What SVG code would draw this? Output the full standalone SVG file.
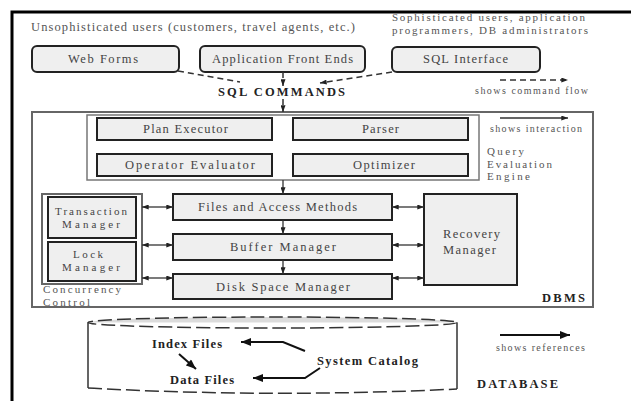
<svg xmlns="http://www.w3.org/2000/svg" width="631" height="401" viewBox="0 0 631 401">
<defs>
<marker id="ah" viewBox="0 0 8 6" markerWidth="7" markerHeight="5" refX="8" refY="3" orient="auto-start-reverse" markerUnits="userSpaceOnUse"><path d="M0,0 L8,3 L0,6 z" fill="#222"/></marker>
<marker id="ahb" viewBox="0 0 10 8" markerWidth="11" markerHeight="8" refX="10" refY="4" orient="auto" markerUnits="userSpaceOnUse"><path d="M0,0 L10,4 L0,8 z" fill="#111"/></marker>
</defs>
<style>
text{font-family:"Liberation Serif","Times New Roman",serif;}
.t{font-size:12.5px;fill:#555;}
.t2{font-size:11px;fill:#555;}
.bx{font-size:12.5px;fill:#444;}
.bx2{font-size:11px;fill:#444;}
.b{font-size:12.5px;font-weight:bold;fill:#222;}
.sm{font-size:10px;fill:#555;}
.rbox{fill:#efefef;stroke:#222;stroke-width:2;}
.box{fill:#efefef;stroke:#222;stroke-width:2;}
.dash{fill:none;stroke:#333;stroke-width:1.5;stroke-dasharray:6,4;}
.ln{fill:none;stroke:#333;stroke-width:1.3;}
.ref{fill:none;stroke:#111;stroke-width:2;}
</style>
<rect width="631" height="401" fill="#fff"/>
<path d="M12,401 L12,12 L631,12" fill="none" stroke="#000" stroke-width="3"/>

<text class="t" x="31" y="31" textLength="324" lengthAdjust="spacing">Unsophisticated users (customers, travel agents, etc.)</text>
<text class="t2" x="392" y="21" textLength="193" lengthAdjust="spacing">Sophisticated users, application</text>
<text class="t2" x="392" y="34" textLength="196" lengthAdjust="spacing">programmers, DB administrators</text>

<g id="web-forms"><rect class="rbox" x="32" y="46" width="147" height="26" rx="5"/><text class="bx" x="68" y="63" textLength="70" lengthAdjust="spacing">Web Forms</text></g>
<g id="app-front-ends"><rect class="rbox" x="200" y="46" width="165" height="26" rx="5"/><text class="bx" x="212" y="63" textLength="141" lengthAdjust="spacing">Application Front Ends</text></g>
<g id="sql-interface"><rect class="rbox" x="392" y="47" width="148" height="25" rx="5"/><text class="bx" x="423" y="63" textLength="85" lengthAdjust="spacing">SQL Interface</text></g>

<g id="sql-commands"><text class="b" x="218" y="96" textLength="127" lengthAdjust="spacing">SQL COMMANDS</text></g>

<g id="legend-command"><path class="dash" d="M500,80 L568,80" marker-end="url(#ah)"/><text class="sm" x="475" y="94" textLength="113" lengthAdjust="spacing">shows command flow</text></g>

<g id="dbms"><rect x="32" y="112" width="561" height="195" fill="#fff" stroke="#666" stroke-width="2"/><text class="b" x="542" y="302" textLength="43" lengthAdjust="spacing">DBMS</text></g>

<g id="query-engine"><rect x="87" y="115" width="392" height="65" fill="#fff" stroke="#777" stroke-width="1.5"/>
<text class="t2" x="487" y="155" textLength="37" lengthAdjust="spacing">Query</text><text class="t2" x="487" y="167.5" textLength="65" lengthAdjust="spacing">Evaluation</text><text class="t2" x="487" y="180" textLength="43" lengthAdjust="spacing">Engine</text></g>
<g id="plan-executor"><rect class="box" x="97" y="118" width="175" height="22"/><text class="bx" x="143" y="133" textLength="85" lengthAdjust="spacing">Plan Executor</text></g>
<g id="parser"><rect class="box" x="293" y="118" width="175" height="22"/><text class="bx" x="362" y="133" textLength="37" lengthAdjust="spacing">Parser</text></g>
<g id="operator-evaluator"><rect class="box" x="97" y="154" width="175" height="22"/><text class="bx" x="125" y="169" textLength="130" lengthAdjust="spacing">Operator Evaluator</text></g>
<g id="optimizer"><rect class="box" x="293" y="154" width="175" height="22"/><text class="bx" x="353" y="169" textLength="62" lengthAdjust="spacing">Optimizer</text></g>

<g id="legend-interaction"><path class="ln" d="M500,118 L568,118" marker-end="url(#ah)"/><text class="sm" x="490" y="132" textLength="92" lengthAdjust="spacing">shows interaction</text></g>

<g id="files-access"><rect class="box" x="173" y="194" width="219" height="26"/><text class="bx" x="198" y="211" textLength="159" lengthAdjust="spacing">Files and Access Methods</text></g>
<g id="buffer-manager"><rect class="box" x="173" y="234" width="219" height="26"/><text class="bx" x="230" y="251" textLength="106" lengthAdjust="spacing">Buffer Manager</text></g>
<g id="disk-space-manager"><rect class="box" x="173" y="274" width="219" height="25"/><text class="bx" x="216" y="291" textLength="134" lengthAdjust="spacing">Disk Space Manager</text></g>

<g id="concurrency-control"><rect x="42" y="194" width="100" height="90" fill="#fff" stroke="#666" stroke-width="2"/>
<text class="t2" x="43" y="293" textLength="78" lengthAdjust="spacing">Concurrency</text><text class="t2" x="43" y="305.5" textLength="47" lengthAdjust="spacing">Control</text></g>
<g id="transaction-manager"><rect class="box" x="48" y="197" width="88" height="41"/><text class="bx2" x="55" y="215" textLength="72" lengthAdjust="spacing">Transaction</text><text class="bx2" x="62" y="228" textLength="58" lengthAdjust="spacing">Manager</text></g>
<g id="lock-manager"><rect class="box" x="48" y="242" width="88" height="39"/><text class="bx2" x="73" y="258" textLength="30" lengthAdjust="spacing">Lock</text><text class="bx2" x="62" y="271" textLength="58" lengthAdjust="spacing">Manager</text></g>
<g id="recovery-manager"><rect class="box" x="424" y="194" width="93" height="91"/><text class="bx" x="443" y="238" textLength="57" lengthAdjust="spacing">Recovery</text><text class="bx" x="443" y="254" textLength="53" lengthAdjust="spacing">Manager</text></g>

<g id="database"><ellipse cx="272.5" cy="322.5" rx="184.5" ry="5.5" fill="#dcdcdc" stroke="none"/>
<path d="M88,322.5 L88,388 Q272,398 457,389 L457,322.5" fill="#fff" stroke="none"/>
<ellipse cx="272.5" cy="322.5" rx="184.5" ry="5.5" fill="none" stroke="#333" stroke-width="1.5" stroke-dasharray="14,5"/>
<path d="M88,322.5 L88,388 M457,322.5 L457,389" fill="none" stroke="#333" stroke-width="1.5"/>
<path d="M88,388 Q272,398 457,389" fill="none" stroke="#333" stroke-width="1.5" stroke-dasharray="14,5"/>
<text class="b" x="477" y="388" textLength="81" lengthAdjust="spacing">DATABASE</text></g>
<g id="index-files"><text class="b" x="152" y="348" textLength="70" lengthAdjust="spacing">Index Files</text></g>
<g id="data-files"><text class="b" x="170" y="384" textLength="64" lengthAdjust="spacing">Data Files</text></g>
<g id="system-catalog"><text class="b" x="317" y="365" textLength="101" lengthAdjust="spacing">System Catalog</text></g>
<g id="legend-references"><path class="ref" d="M500,335 L570,335" marker-end="url(#ahb)"/><text class="sm" x="496" y="351" textLength="89" lengthAdjust="spacing">shows references</text></g>

<g id="connectors">
<path class="dash" d="M178,71 L240,82"/>
<path class="dash" d="M392,72 L320,83" marker-end="url(#ah)"/>
<path class="dash" d="M283,72 L283,86" marker-end="url(#ah)"/>
<path class="dash" d="M283,99 L283,112" marker-end="url(#ah)"/>
<path class="ln" d="M283,180 L283,194" marker-end="url(#ah)"/>
<path class="ln" d="M283,220 L283,234" marker-end="url(#ah)"/>
<path class="ln" d="M283,260 L283,274" marker-end="url(#ah)"/>
<path class="ln" d="M142,207 L173,207" marker-start="url(#ah)" marker-end="url(#ah)"/>
<path class="ln" d="M142,245 L173,245" marker-start="url(#ah)" marker-end="url(#ah)"/>
<path class="ln" d="M142,278 L173,278" marker-start="url(#ah)" marker-end="url(#ah)"/>
<path class="ln" d="M392,207 L424,207" marker-start="url(#ah)" marker-end="url(#ah)"/>
<path class="ln" d="M392,245 L424,245" marker-start="url(#ah)" marker-end="url(#ah)"/>
<path class="ln" d="M392,278 L424,278" marker-start="url(#ah)" marker-end="url(#ah)"/>
<path class="ref" d="M179,354 L196,369" marker-end="url(#ahb)"/>
<path class="ref" d="M305,351 L283,342 L241,342" marker-end="url(#ahb)"/>
<path class="ref" d="M320,368 L305,378 L253,378" marker-end="url(#ahb)"/>
</g>
</svg>
